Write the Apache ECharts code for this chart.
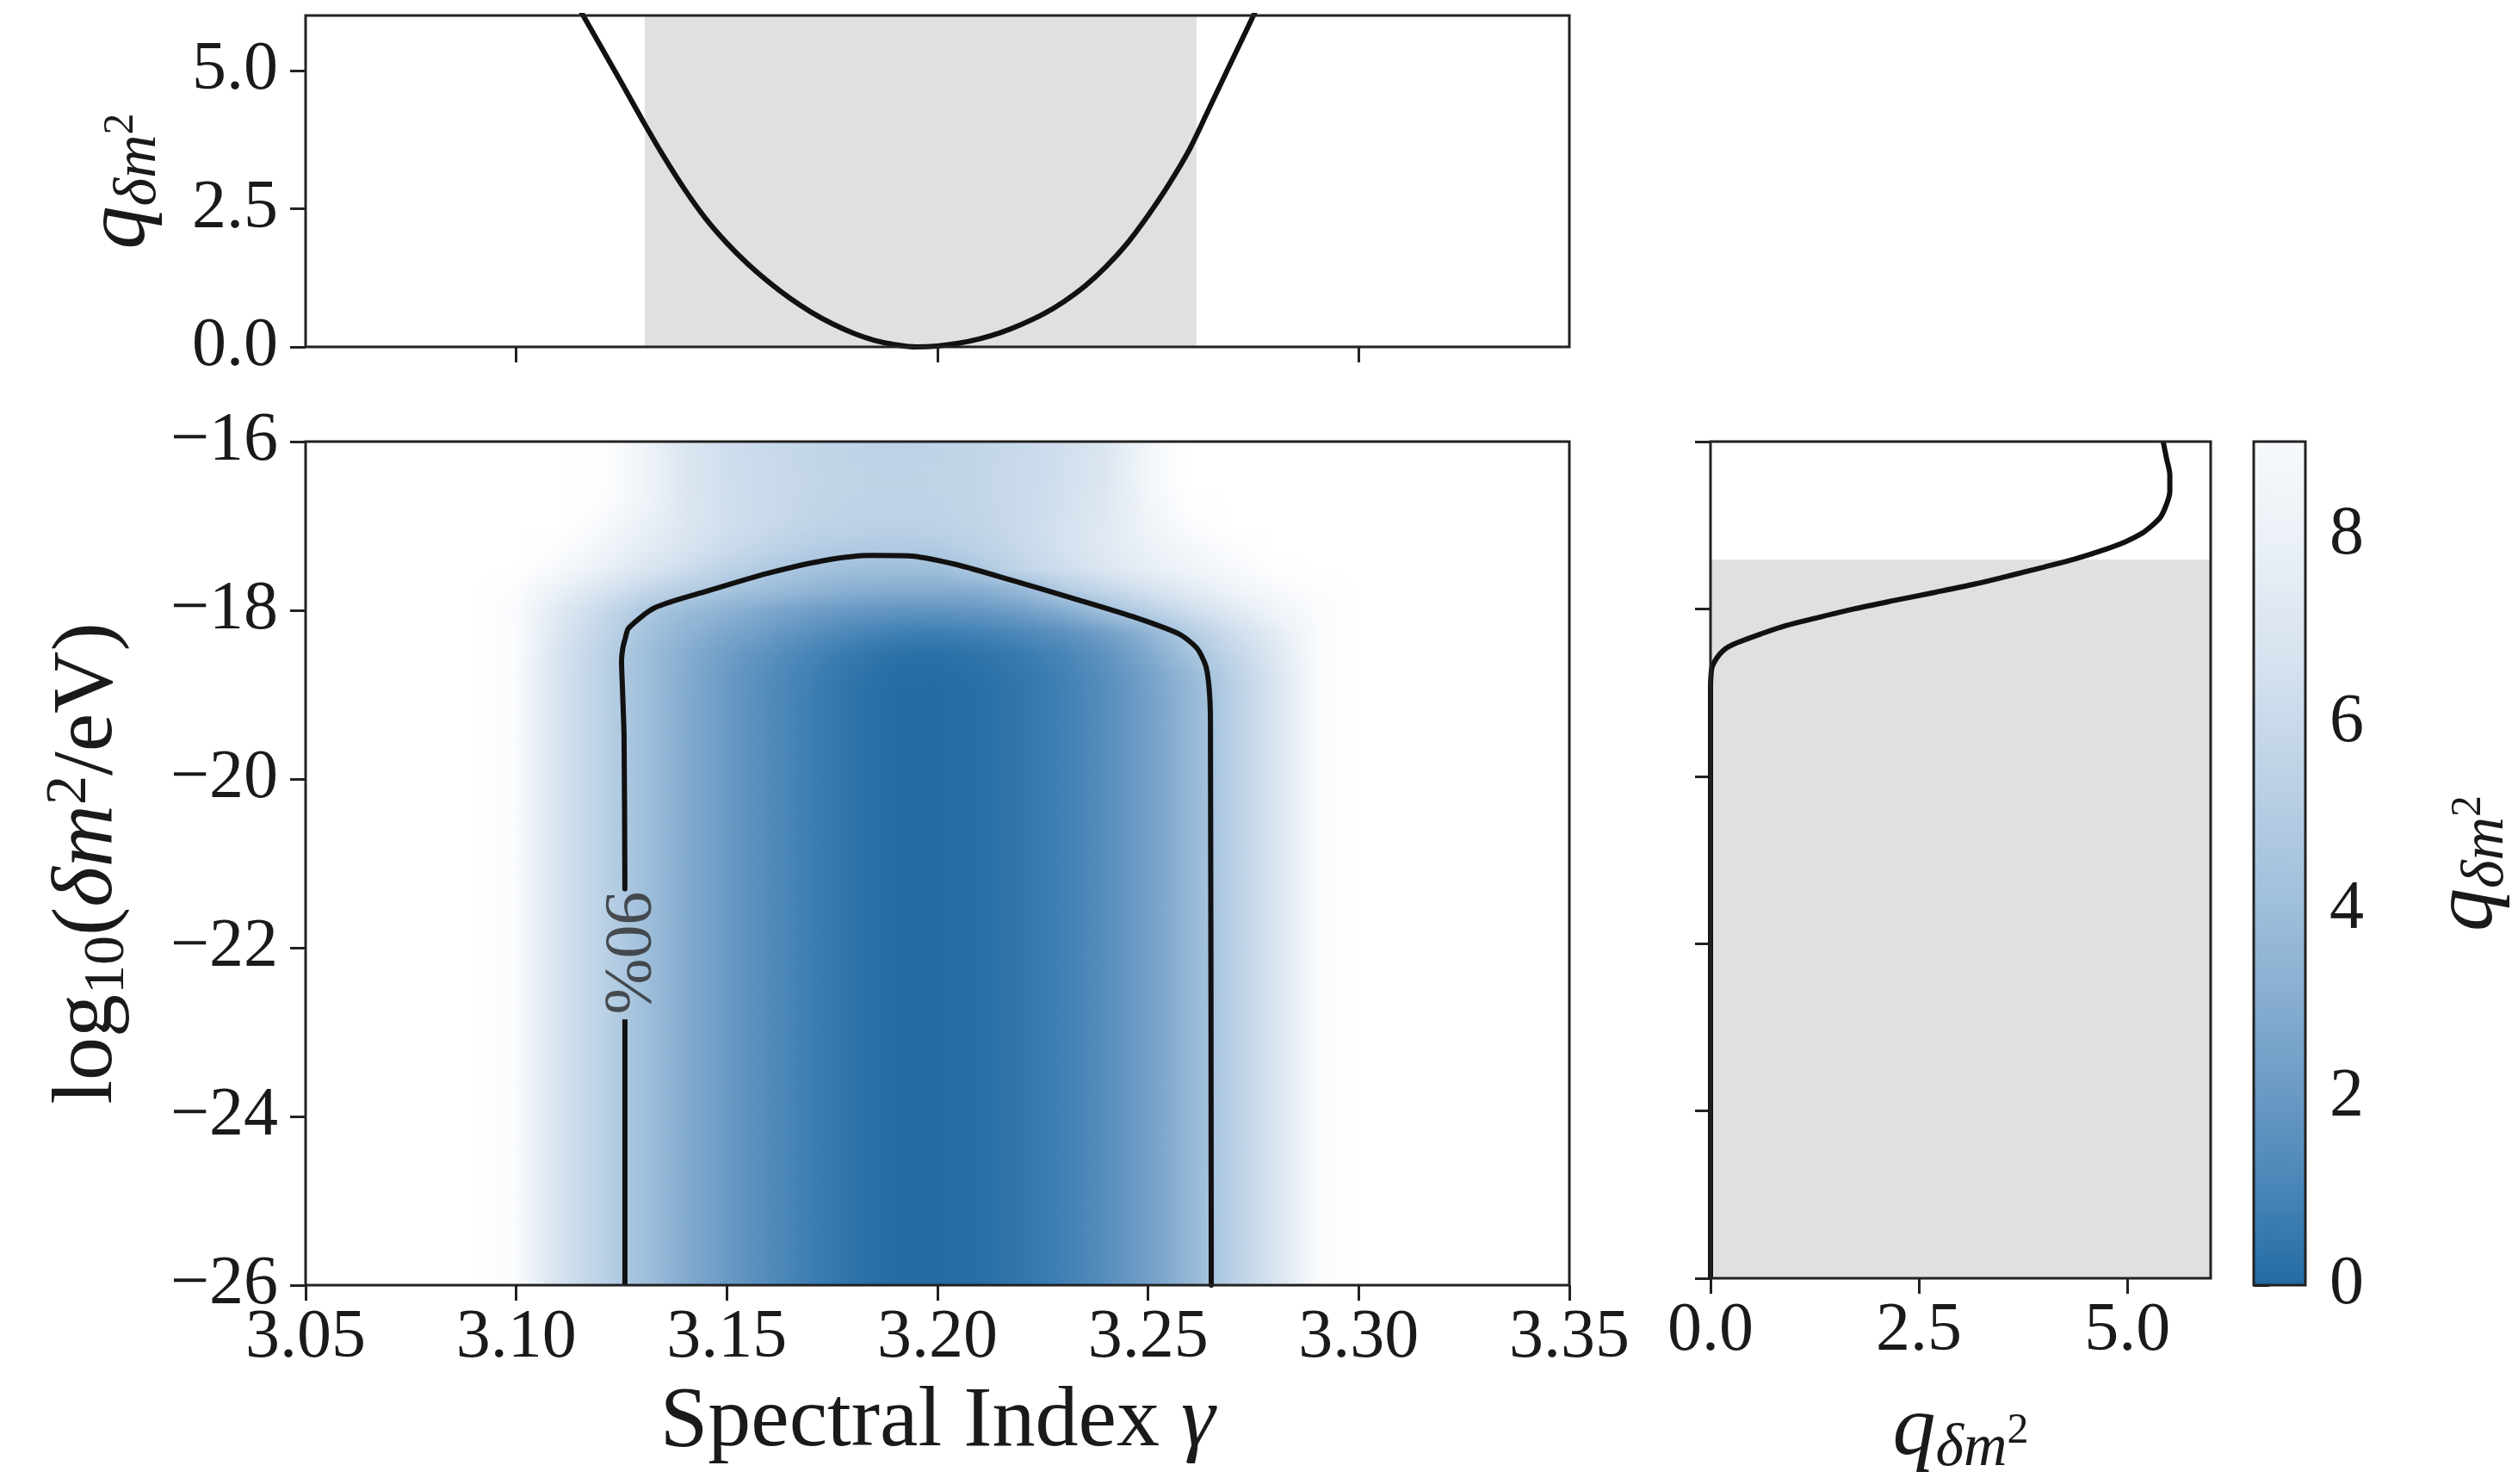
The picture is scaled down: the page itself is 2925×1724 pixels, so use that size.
<!DOCTYPE html>
<html>
<head>
<meta charset="utf-8">
<title>q profile in gamma / log10 dm2</title>
<script src="https://cdn.jsdelivr.net/npm/echarts@6/dist/echarts.min.js"></script>
<style>
html, body { margin: 0; padding: 0; background: #ffffff; }
#chart { width: 2925px; height: 1724px; }
</style>
</head>
<body>
<div id="chart"></div>
<script>
// ---------- values ----------
var gammaTicks = [3.05, 3.10, 3.15, 3.20, 3.25, 3.30, 3.35];
var gammaTopTicks = [3.10, 3.20, 3.30];
var massTicks = [-26, -24, -22, -20, -18, -16];
var qTicks = [0, 2.5, 5];
var cbarTicks = [0, 2, 4, 6, 8];

// top panel: profile q vs spectral index
var topGamma = [3.110, 3.115, 3.120, 3.125, 3.130, 3.135, 3.140, 3.145, 3.150, 3.155, 3.160, 3.165,
  3.170, 3.175, 3.180, 3.185, 3.190, 3.195, 3.200, 3.205, 3.210, 3.215, 3.220, 3.225, 3.230, 3.235,
  3.240, 3.245, 3.250, 3.255, 3.260, 3.265, 3.270, 3.275, 3.280];
var topQ = [6.8, 6.12, 5.45, 4.78, 4.1, 3.45, 2.85, 2.32, 1.88, 1.5, 1.17, 0.88,
  0.63, 0.42, 0.25, 0.12, 0.04, 0.0, 0.016, 0.065, 0.146, 0.26, 0.41, 0.59, 0.82, 1.1,
  1.45, 1.87, 2.38, 2.95, 3.6, 4.4, 5.2, 6.0, 6.85];
var topBand = [3.1305, 3.2615];

// right panel: profile q vs log10(dm2)
var rightMass = [-26, -19.5, -18.93, -18.8, -18.69, -18.58, -18.5, -18.45, -18.4, -18.3, -18.2, -18.1,
  -18.0, -17.9, -17.8, -17.7, -17.6, -17.5, -17.4, -17.3, -17.2, -17.1, -17.0, -16.9, -16.75,
  -16.6, -16.4, -16.2, -16.0];
var rightQ = [0, 0, 0, 0.005, 0.02, 0.08, 0.15, 0.22, 0.33, 0.6, 0.9, 1.3,
  1.72, 2.2, 2.7, 3.18, 3.6, 4.0, 4.38, 4.7, 4.97, 5.17, 5.3, 5.4, 5.47,
  5.51, 5.51, 5.47, 5.43];
var rightBand = [-26, -17.41];

// 90% contour in the main panel
var contourGamma = [3.1258, 3.1256, 3.1252, 3.1250, 3.1253, 3.1259, 3.1267, 3.1329, 3.1455, 3.1598, 3.1730,
  3.1844, 3.1930, 3.2044, 3.2187, 3.2330, 3.2473, 3.2573, 3.2616, 3.2637, 3.2645, 3.2648, 3.2650];
var contourMass = [-21.3, -19.5, -18.9, -18.6, -18.45, -18.33, -18.21, -17.97, -17.77, -17.56, -17.41,
  -17.35, -17.354, -17.457, -17.66, -17.87, -18.09, -18.28, -18.45, -18.66, -18.93, -19.3, -26];
var contourLowGamma = [3.1258, 3.1258];
var contourLowMass = [-22.85, -26];
var contourLabel = [3.1258, -22.06];

// main panel q map: nodes in gamma (columns) and log10(dm2) (rows); first row holds down to -26
var heatGamma = [3.09, 3.10, 3.11, 3.12, 3.13, 3.14, 3.15, 3.16, 3.17, 3.18, 3.19,
  3.20, 3.21, 3.22, 3.23, 3.24, 3.25, 3.26, 3.27, 3.28, 3.29, 3.30];
var heatRowMass = [-19.0, -18.75, -18.5, -18.25, -18.0, -17.75, -17.5, -17.25, -17.0, -16.75, -16.5, -16.25, -16.0];
var heatQ = [
  [10, 9.3, 6.75, 5.4, 4.12, 2.97, 2.03, 1.32, 0.74, 0.30, 0.04, 0.02, 0.15, 0.41, 0.82, 1.45, 2.38, 3.6, 5.2, 6.85, 9.3, 10],
  [10, 9.3, 6.75, 5.4, 4.13, 3.0, 2.07, 1.37, 0.8, 0.36, 0.09, 0.07, 0.2, 0.46, 0.88, 1.52, 2.46, 3.75, 5.3, 6.9, 9.3, 10],
  [10, 9.3, 6.8, 5.45, 4.15, 3.08, 2.25, 1.6, 1.0, 0.55, 0.26, 0.22, 0.36, 0.63, 1.05, 1.75, 2.85, 4.4, 5.7, 7.1, 9.3, 10],
  [10, 9.3, 7.0, 5.7, 4.4, 3.45, 2.7, 2.1, 1.55, 1.1, 0.82, 0.76, 0.9, 1.2, 1.65, 2.35, 3.5, 5.0, 6.3, 7.5, 9.3, 10],
  [10, 9.2, 7.3, 6.0, 4.75, 3.9, 3.25, 2.7, 2.25, 1.95, 1.78, 1.75, 1.9, 2.3, 3.0, 4.15, 5.2, 6.3, 7.3, 8.3, 9.3, 10],
  [10, 9.5, 8.0, 6.9, 5.9, 5.1, 4.5, 3.95, 3.5, 3.15, 2.98, 2.95, 3.1, 3.7, 4.9, 5.8, 6.6, 7.4, 8.2, 9.0, 9.6, 10],
  [10, 10, 8.9, 7.9, 7.0, 6.2, 5.45, 4.85, 4.35, 4.08, 4.0, 4.05, 4.8, 5.6, 6.3, 7.0, 7.7, 8.3, 8.9, 9.8, 10, 10],
  [10, 10, 9.6, 8.5, 7.6, 6.8, 6.1, 5.5, 5.1, 4.9, 4.85, 4.95, 5.35, 5.9, 6.6, 7.3, 8.0, 8.7, 9.4, 10, 10, 10],
  [10, 10, 10, 9.0, 7.9, 7.0, 6.4, 5.95, 5.55, 5.35, 5.3, 5.38, 5.65, 6.05, 6.6, 7.3, 8.3, 9.3, 10, 10, 10, 10],
  [10, 10, 10, 9.6, 8.3, 7.1, 6.4, 6.0, 5.72, 5.52, 5.47, 5.52, 5.7, 6.0, 6.5, 7.2, 8.5, 9.8, 10, 10, 10, 10],
  [10, 10, 10, 9.8, 8.4, 7.0, 6.35, 6.0, 5.75, 5.56, 5.51, 5.56, 5.72, 6.0, 6.45, 7.1, 8.6, 10, 10, 10, 10, 10],
  [10, 10, 10, 9.8, 8.4, 7.0, 6.33, 5.98, 5.73, 5.54, 5.49, 5.54, 5.7, 5.98, 6.42, 7.05, 8.6, 10, 10, 10, 10, 10],
  [10, 10, 10, 9.8, 8.4, 6.95, 6.3, 5.95, 5.7, 5.5, 5.43, 5.5, 5.68, 5.95, 6.4, 7.0, 8.55, 10, 10, 10, 10, 10]
];

// colour scale, one colour per unit of q (0..9), 10 = above range
var cmapColors = ['#226ba4', '#4785b7', '#6899c4', '#85acd0', '#9ebeda', '#b4cce3',
  '#c9daeb', '#dce6f1', '#ebf1f7', '#f7f9fc', '#ffffff'];

// ---------- helpers ----------
var FONT = "'Liberation Serif', 'DejaVu Serif', serif";
var TXT = '#1a1a1a';
var LINE = '#111111';

function hexRgb(h) {
  return [parseInt(h.substr(1, 2), 16), parseInt(h.substr(3, 2), 16), parseInt(h.substr(5, 2), 16)];
}
function cmap(q) {
  if (q <= 0) return cmapColors[0];
  if (q >= 10) return cmapColors[10];
  var i = Math.floor(q), f = q - i;
  var a = hexRgb(cmapColors[i]), b = hexRgb(cmapColors[i + 1]);
  return 'rgb(' + Math.round(a[0] + (b[0] - a[0]) * f) + ',' + Math.round(a[1] + (b[1] - a[1]) * f) + ',' +
    Math.round(a[2] + (b[2] - a[2]) * f) + ')';
}
function hGrad(q0, q1) {
  return new echarts.graphic.LinearGradient(0, 0, 1, 0, [
    { offset: 0, color: cmap(q0) }, { offset: 1, color: cmap(q1) }]);
}
function zip(xs, ys) {
  return xs.map(function (x, i) { return [x, ys[i]]; });
}
function minus(v) {
  return (v < 0 ? '\u2212' : '') + Math.abs(v);
}

// one item per grid cell: gamma span, mass span, q at the four corners
var heatCells = [];
for (var c = 0; c < heatGamma.length - 1; c++) {
  heatCells.push([heatGamma[c], heatGamma[c + 1], -26, heatRowMass[0],
    heatQ[0][c], heatQ[0][c + 1], heatQ[0][c], heatQ[0][c + 1]]);
}
for (var r = 0; r < heatRowMass.length - 1; r++) {
  for (var c2 = 0; c2 < heatGamma.length - 1; c2++) {
    heatCells.push([heatGamma[c2], heatGamma[c2 + 1], heatRowMass[r], heatRowMass[r + 1],
      heatQ[r][c2], heatQ[r][c2 + 1], heatQ[r + 1][c2], heatQ[r + 1][c2 + 1]]);
  }
}

var rich = {
  n: { fontFamily: FONT, fontSize: 100, lineHeight: 112, color: TXT },
  i: { fontFamily: FONT, fontSize: 100, lineHeight: 112, fontStyle: 'italic', color: TXT },
  sub: { fontFamily: FONT, fontSize: 68, lineHeight: 62, verticalAlign: 'bottom', color: TXT },
  isub: { fontFamily: FONT, fontSize: 70, lineHeight: 62, verticalAlign: 'bottom', fontStyle: 'italic', color: TXT },
  sup: { fontFamily: FONT, fontSize: 68, lineHeight: 58, verticalAlign: 'top', color: TXT },
  ssup: { fontFamily: FONT, fontSize: 50, lineHeight: 50, verticalAlign: 'middle', color: TXT }
};
var qName = '{i|q}{isub|\u03b4m}{ssup|2}';

var tickStyle = { show: true, inside: false, length: 18, lineStyle: { color: '#222', width: 3 } };
var labelStyle = { fontFamily: FONT, fontSize: 80, color: TXT };

function gridBox(left, top, width, height) {
  return { left: left, top: top, width: width, height: height, show: true, z: 10,
    backgroundColor: 'transparent', borderColor: '#222', borderWidth: 3, containLabel: false };
}

var option = {
  animation: false,
  backgroundColor: '#ffffff',
  grid: [
    gridBox(355, 513, 1468, 980),   // main
    gridBox(355, 18, 1468, 385),    // top
    gridBox(1987, 513, 581, 980),   // right
    gridBox(2618, 513, 68, 980)     // colour bar
  ],
  xAxis: [
    { type: 'value', gridIndex: 0, min: 3.05, max: 3.35, splitLine: { show: false }, axisLine: { show: false },
      axisTick: Object.assign({ customValues: gammaTicks }, tickStyle),
      axisLabel: Object.assign({ customValues: gammaTicks, margin: 22, formatter: function (v) { return v.toFixed(2); } }, labelStyle),
      name: '{n|Spectral Index }{i|\u03b3}', nameLocation: 'middle', nameGap: 104, nameTextStyle: { rich: rich } },
    { type: 'value', gridIndex: 1, min: 3.05, max: 3.35, splitLine: { show: false }, axisLine: { show: false },
      axisTick: Object.assign({ customValues: gammaTopTicks }, tickStyle), axisLabel: { show: false } },
    { type: 'value', gridIndex: 2, min: 0, max: 6, splitLine: { show: false }, axisLine: { show: false },
      axisTick: Object.assign({ customValues: qTicks }, tickStyle),
      axisLabel: Object.assign({ customValues: qTicks, margin: 22, formatter: function (v) { return v.toFixed(1); } }, labelStyle),
      name: qName, nameLocation: 'middle', nameGap: 122, nameTextStyle: { rich: rich } },
    { type: 'value', gridIndex: 3, min: 0, max: 1, show: false }
  ],
  yAxis: [
    { type: 'value', gridIndex: 0, min: -26, max: -16, splitLine: { show: false }, axisLine: { show: false },
      axisTick: Object.assign({ customValues: massTicks }, tickStyle),
      axisLabel: Object.assign({ customValues: massTicks, margin: 32, formatter: minus }, labelStyle),
      name: '{n|log}{sub|10}{n|(}{i|\u03b4m}{sup|2}{n|/eV)}', nameLocation: 'middle', nameGap: 196,
      nameTextStyle: { rich: rich } },
    { type: 'value', gridIndex: 1, min: 0, max: 6, splitLine: { show: false }, axisLine: { show: false },
      axisTick: Object.assign({ customValues: qTicks }, tickStyle),
      axisLabel: Object.assign({ customValues: qTicks, margin: 32, formatter: function (v) { return v.toFixed(1); } }, labelStyle),
      name: qName, nameLocation: 'middle', nameGap: 158, nameTextStyle: { rich: rich } },
    { type: 'value', gridIndex: 2, min: -26, max: -16, splitLine: { show: false }, axisLine: { show: false },
      axisTick: Object.assign({ customValues: massTicks }, tickStyle), axisLabel: { show: false } },
    { type: 'value', gridIndex: 3, position: 'right', min: 0, max: 9, splitLine: { show: false }, axisLine: { show: false },
      axisTick: Object.assign({ customValues: cbarTicks }, tickStyle),
      axisLabel: Object.assign({ customValues: cbarTicks, margin: 28 }, labelStyle),
      name: qName, nameLocation: 'middle', nameGap: 134, nameTextStyle: { rich: rich } }
  ],
  series: [
    { // q map, shaded between the corner values of each cell
      type: 'custom', xAxisIndex: 0, yAxisIndex: 0, z: 1, clip: true,
      dimensions: ['g0', 'g1', 'm0', 'm1', 'a0', 'a1', 'b0', 'b1'],
      encode: { x: [0, 1], y: [2, 3] },
      data: heatCells,
      renderItem: function (params, api) {
        var g0 = api.value(0), g1 = api.value(1), m0 = api.value(2), m1 = api.value(3);
        var a0 = api.value(4), a1 = api.value(5), b0 = api.value(6), b1 = api.value(7);
        if (Math.min(a0, a1, b0, b1) >= 10) return;
        var n = (a0 === b0 && a1 === b1) ? 1 : 10;
        var kids = [];
        for (var k = 0; k < n; k++) {
          var t = (k + 0.5) / n;
          var lo = m0 + (m1 - m0) * k / n, hi = m0 + (m1 - m0) * (k + 1) / n;
          var p = api.coord([g0, hi]), s = api.coord([g1, lo]);
          kids.push({ type: 'rect',
            shape: { x: p[0], y: p[1], width: s[0] - p[0] + 0.8, height: s[1] - p[1] + 0.8 },
            style: { fill: hGrad(a0 + (b0 - a0) * t, a1 + (b1 - a1) * t) } });
        }
        return { type: 'group', children: kids };
      }
    },
    { type: 'line', xAxisIndex: 0, yAxisIndex: 0, z: 3, data: zip(contourGamma, contourMass), smooth: 0.25,
      showSymbol: false, lineStyle: { color: LINE, width: 6, cap: 'round', join: 'round' } },
    { type: 'line', xAxisIndex: 0, yAxisIndex: 0, z: 3, data: zip(contourLowGamma, contourLowMass),
      showSymbol: false, lineStyle: { color: LINE, width: 6 } },
    { type: 'scatter', xAxisIndex: 0, yAxisIndex: 0, z: 4, data: [contourLabel], symbolSize: 1,
      itemStyle: { color: 'transparent' },
      label: { show: true, position: 'inside', formatter: '90%', rotate: -90,
        fontFamily: FONT, fontSize: 78, color: '#2a2a2a' } },
    { // top band
      type: 'custom', xAxisIndex: 1, yAxisIndex: 1, z: 1, data: [topBand],
      renderItem: function (params, api) {
        var cs = params.coordSys;
        var x0 = api.coord([api.value(0), 0])[0], x1 = api.coord([api.value(1), 0])[0];
        return { type: 'rect', shape: { x: x0, y: cs.y, width: x1 - x0, height: cs.height },
          style: { fill: '#e0e0e0' } };
      }
    },
    { type: 'line', xAxisIndex: 1, yAxisIndex: 1, z: 3, data: zip(topGamma, topQ), smooth: 0.3,
      showSymbol: false, clip: true, lineStyle: { color: LINE, width: 6 } },
    { // right band
      type: 'custom', xAxisIndex: 2, yAxisIndex: 2, z: 1, data: [rightBand],
      renderItem: function (params, api) {
        var cs = params.coordSys;
        var y0 = api.coord([0, api.value(1)])[1], y1 = api.coord([0, api.value(0)])[1];
        return { type: 'rect', shape: { x: cs.x, y: y0, width: cs.width, height: y1 - y0 },
          style: { fill: '#e0e0e0' } };
      }
    },
    { type: 'line', xAxisIndex: 2, yAxisIndex: 2, z: 3, data: zip(rightQ, rightMass), smooth: 0.3,
      showSymbol: false, clip: true, lineStyle: { color: LINE, width: 6 } },
    { // colour bar
      type: 'custom', xAxisIndex: 3, yAxisIndex: 3, z: 1, data: [[0, 1, 0, 9]],
      encode: { x: [0, 1], y: [2, 3] },
      renderItem: function (params, api) {
        var a = api.coord([api.value(0), api.value(3)]);
        var b = api.coord([api.value(1), api.value(2)]);
        var stops = [];
        for (var k = 0; k <= 9; k++) stops.push({ offset: k / 9, color: cmapColors[k] });
        return { type: 'rect', shape: { x: a[0], y: a[1], width: b[0] - a[0], height: b[1] - a[1] },
          style: { fill: new echarts.graphic.LinearGradient(0, 1, 0, 0, stops) } };
      }
    }
  ]
};

var chart = echarts.init(document.getElementById('chart'));
chart.setOption(option);
</script>
</body>
</html>
